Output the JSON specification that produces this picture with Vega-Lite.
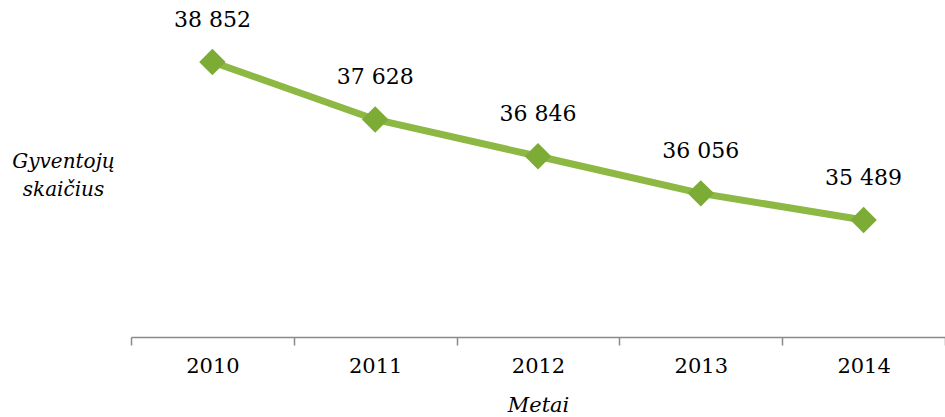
{
  "$schema": "https://vega.github.io/schema/vega-lite/v6.json",
  "width": 814,
  "height": 329,
  "autosize": "none",
  "padding": {"left": 131, "top": 8, "right": 0, "bottom": 80},
  "background": "white",
  "config": {"view": {"stroke": null}, "font": "DejaVu Serif"},
  "data": {"values": [
    {"year": "2010", "pop": 38852, "label": "38 852"},
    {"year": "2011", "pop": 37628, "label": "37 628"},
    {"year": "2012", "pop": 36846, "label": "36 846"},
    {"year": "2013", "pop": 36056, "label": "36 056"},
    {"year": "2014", "pop": 35489, "label": "35 489"}
  ]},
  "encoding": {
    "x": {"field": "year", "type": "ordinal", "scale": {"type": "band", "paddingInner": 0, "paddingOuter": 0},
      "axis": {"title": "Metai", "titleFont": "DejaVu Serif", "titleFontStyle": "italic", "titleFontWeight": "normal", "titleFontSize": 21, "titleColor": "#000", "titlePadding": 18,
        "labelAngle": 0, "labelFont": "DejaVu Serif", "labelFontSize": 21, "labelColor": "#000", "labelPadding": 10,
        "tickBand": "extent", "tickSize": 8, "tickColor": "#8a8a8a", "domainColor": "#8a8a8a", "domainWidth": 1.5, "tickWidth": 1.5, "grid": false}},
    "y": {"field": "pop", "type": "quantitative", "scale": {"domain": [33000, 40000], "zero": false, "nice": false},
      "axis": {"title": ["Gyventojų", "skaičius"], "titleFont": "DejaVu Serif", "titleFontStyle": "italic", "titleFontWeight": "normal", "titleFontSize": 20, "titleColor": "#000",
        "titleAngle": 0, "titleAlign": "center", "titleBaseline": "middle", "titleX": -68, "titleY": 153, "titleLineHeight": 28,
        "domain": false, "ticks": false, "labels": false, "grid": false}}
  },
  "layer": [
    {"mark": {"type": "line", "color": "#8cb843", "strokeWidth": 7}},
    {"mark": {"type": "point", "shape": "diamond", "filled": true, "size": 700, "color": "#7cab36", "opacity": 1}},
    {"mark": {"type": "text", "dy": -42, "fontSize": 22, "font": "DejaVu Serif", "color": "#000"},
      "encoding": {"text": {"field": "label"}}}
  ]
}
